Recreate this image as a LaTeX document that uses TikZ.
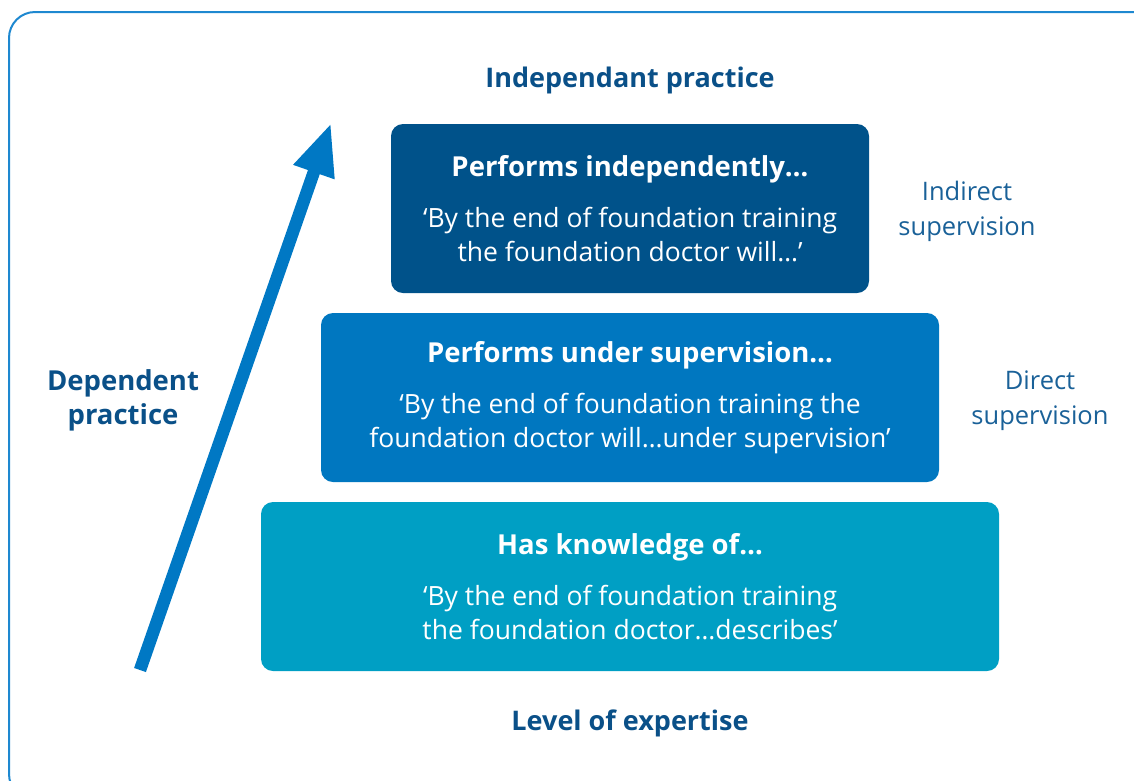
\documentclass[tikz,border=0pt]{standalone}
\usepackage{fontspec}
\setmainfont{Open Sans}
\usetikzlibrary{arrows.meta}
\definecolor{navy}{HTML}{0A5088}
\definecolor{sidec}{HTML}{1A6198}
\definecolor{boxtop}{HTML}{00528A}
\definecolor{boxmid}{HTML}{0077C0}
\definecolor{boxbot}{HTML}{009FC4}
\definecolor{arrowc}{HTML}{0078C4}
\definecolor{framec}{HTML}{1E88D0}
\newcommand{\lvlhead}[1]{{\fontsize{27.5}{34}\selectfont\bfseries #1}}
\tikzset{
  level/.style={rounded corners=12pt, inner sep=0pt, minimum height=169pt, text=white,
    align=center, font=\fontsize{26.5}{34}\selectfont},
  heading/.style={font=\fontsize{27}{34}\selectfont\bfseries, text=navy, align=center},
  sidelabel/.style={font=\fontsize{25.5}{35}\selectfont, text=sidec, align=center},
}
\begin{document}
\begin{tikzpicture}[x=1pt,y=-1pt]
\useasboundingbox (0,0) rectangle (1134,780);
\begin{scope}
\clip (0,0) rectangle (1134,780);
\draw[framec, line width=2pt, rounded corners=26pt] (9,12) rectangle (1160,800);
\end{scope}

\node[level, fill=boxtop, minimum width=478pt] (top) at (630,208.5)
  {\lvlhead{Performs independently…}\\[17pt]‘By the end of foundation training\\the foundation doctor will…’};
\node[level, fill=boxmid, minimum width=618pt] (mid) at (630,397.5)
  {\lvlhead{Performs under supervision…}\\[17pt]‘By the end of foundation training the\\foundation doctor will…under supervision’};
\node[level, fill=boxbot, minimum width=738pt] (bot) at (630,586.5)
  {\lvlhead{Has knowledge of…}\\[17pt]‘By the end of foundation training\\the foundation doctor…describes’};

\node[heading] (indep) at (630,80) {Independant practice};
\node[heading] (expert) at (630,723) {Level of expertise};
\node[heading, font=\fontsize{27.5}{34}\selectfont\bfseries] (dep) at (123,400) {Dependent\\practice};

\node[sidelabel] (indir) at (967,211) {Indirect\\supervision};
\node[sidelabel] (dir) at (1040,401) {Direct\\supervision};

\coordinate (astart) at (140,670);
\coordinate (aend) at (331,123);
\draw[arrowc, line width=12.5pt, -{Triangle[length=52pt,width=40pt]}] (astart) -- (aend);
\end{tikzpicture}
\end{document}
